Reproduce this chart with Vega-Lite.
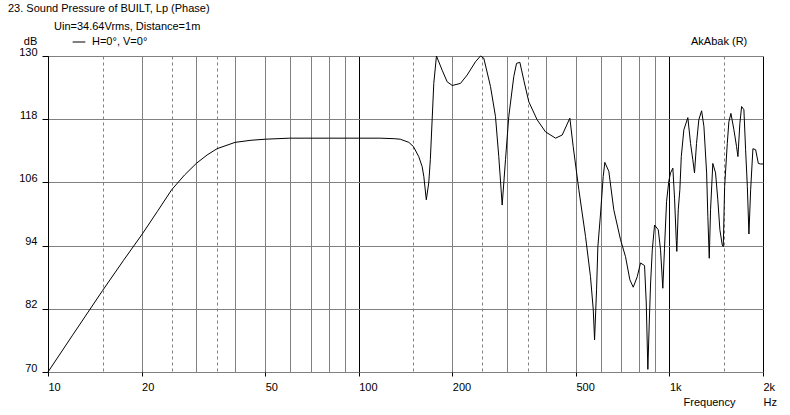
{
  "$schema": "https://vega.github.io/schema/vega-lite/v6.json",
  "autosize": {"type": "none"},
  "width": 715,
  "height": 316,
  "padding": {"left": 48, "top": 56, "right": 27, "bottom": 43},
  "background": "white",
  "config": {
    "font": "Liberation Sans",
    "view": {"stroke": null},
    "axis": {"labelFont": "Liberation Sans", "labelFontSize": 11, "labelColor": "black", "titleFont": "Liberation Sans", "titleFontSize": 11, "titleFontWeight": "normal", "titleColor": "black"}
  },
  "title": {
    "text": "23. Sound Pressure of BUILT, Lp (Phase)",
    "anchor": "start",
    "frame": "group",
    "dx": -40,
    "offset": 7,
    "fontSize": 11,
    "fontWeight": "normal",
    "font": "Liberation Sans",
    "color": "black"
  },
  "layer": [
    {
      "data": {
        "values": [
          {"f": 10, "db": 70}, {"f": 12, "db": 77.0}, {"f": 15, "db": 85.5}, {"f": 17.5, "db": 91.2},
          {"f": 20, "db": 96.0}, {"f": 22.5, "db": 100.5}, {"f": 25, "db": 104.6}, {"f": 27.5, "db": 107.4},
          {"f": 30, "db": 109.6}, {"f": 32.5, "db": 111.2}, {"f": 35, "db": 112.4}, {"f": 40, "db": 113.6},
          {"f": 45, "db": 114.0}, {"f": 50, "db": 114.2}, {"f": 60, "db": 114.4}, {"f": 80, "db": 114.4},
          {"f": 100, "db": 114.4}, {"f": 117, "db": 114.4}, {"f": 130, "db": 114.3}, {"f": 136, "db": 114.2},
          {"f": 145, "db": 113.6}, {"f": 150, "db": 112.8}, {"f": 156, "db": 110.9}, {"f": 160, "db": 109.0},
          {"f": 162, "db": 107.1}, {"f": 165, "db": 102.7}, {"f": 168, "db": 105.9}, {"f": 170, "db": 110.3},
          {"f": 172.3, "db": 117.9}, {"f": 174.4, "db": 124.8}, {"f": 177.9, "db": 130}, {"f": 185.6, "db": 127.3},
          {"f": 192.6, "db": 125.1}, {"f": 200, "db": 124.4}, {"f": 212.6, "db": 124.8}, {"f": 223.4, "db": 126.4},
          {"f": 237.5, "db": 128.9}, {"f": 246.5, "db": 130}, {"f": 252.6, "db": 129.6}, {"f": 265.5, "db": 124.2},
          {"f": 275.5, "db": 118.5}, {"f": 282.3, "db": 110.9}, {"f": 289.5, "db": 101.7}, {"f": 296.7, "db": 110.3},
          {"f": 304, "db": 118.5}, {"f": 315.5, "db": 126.1}, {"f": 322, "db": 128.6}, {"f": 330, "db": 128.8},
          {"f": 339.8, "db": 125.4}, {"f": 352.7, "db": 121.3}, {"f": 375, "db": 117.9}, {"f": 399, "db": 115.6},
          {"f": 430, "db": 114.4}, {"f": 451.7, "db": 115.0}, {"f": 478, "db": 118.2}, {"f": 490, "db": 112.8},
          {"f": 511, "db": 104.6}, {"f": 537, "db": 95.7}, {"f": 557, "db": 88.1}, {"f": 568.6, "db": 81.8},
          {"f": 574.1, "db": 76.1}, {"f": 582.6, "db": 85.6}, {"f": 588.3, "db": 93.8}, {"f": 600, "db": 100.0},
          {"f": 612, "db": 107.1}, {"f": 619.5, "db": 109.8}, {"f": 638, "db": 108.1}, {"f": 662, "db": 100.8},
          {"f": 696, "db": 95.1}, {"f": 722, "db": 91.9}, {"f": 745.7, "db": 87.5}, {"f": 764.6, "db": 86.1},
          {"f": 787.6, "db": 88.1}, {"f": 807, "db": 90.7}, {"f": 831.5, "db": 90.2}, {"f": 842, "db": 83.1},
          {"f": 852, "db": 70.5}, {"f": 861, "db": 79.3}, {"f": 869.6, "db": 86.9}, {"f": 880.5, "db": 93.2},
          {"f": 895.6, "db": 97.9}, {"f": 920.4, "db": 97.0}, {"f": 936, "db": 93.2}, {"f": 952, "db": 85.9},
          {"f": 964, "db": 93.5}, {"f": 978.8, "db": 102.4}, {"f": 995.6, "db": 106.3}, {"f": 1008, "db": 107.8},
          {"f": 1025.4, "db": 108.7}, {"f": 1038.5, "db": 103}, {"f": 1051.7, "db": 95}, {"f": 1056, "db": 92.9},
          {"f": 1067.4, "db": 100.8}, {"f": 1080, "db": 104.6}, {"f": 1091.6, "db": 110.9}, {"f": 1112.6, "db": 116.0},
          {"f": 1146, "db": 118.3}, {"f": 1169, "db": 113.4}, {"f": 1189, "db": 110.3}, {"f": 1204, "db": 107.8},
          {"f": 1222, "db": 113.4}, {"f": 1243, "db": 117.9}, {"f": 1269, "db": 119.6}, {"f": 1291, "db": 116.6},
          {"f": 1317, "db": 107.8}, {"f": 1329, "db": 99.5}, {"f": 1343, "db": 91.6}, {"f": 1356, "db": 100.8},
          {"f": 1379, "db": 109.6}, {"f": 1407, "db": 107.8}, {"f": 1431, "db": 102.7}, {"f": 1453, "db": 97.0},
          {"f": 1479, "db": 94.1}, {"f": 1490, "db": 93.8}, {"f": 1505, "db": 105.2}, {"f": 1535, "db": 113.4},
          {"f": 1553, "db": 117.5}, {"f": 1577, "db": 119.1}, {"f": 1612, "db": 116.0}, {"f": 1644, "db": 112.8},
          {"f": 1661, "db": 110.9}, {"f": 1685, "db": 117.2}, {"f": 1707, "db": 120.4}, {"f": 1736, "db": 119.8},
          {"f": 1758, "db": 112.2}, {"f": 1781, "db": 105.2}, {"f": 1802, "db": 96.2}, {"f": 1825, "db": 104.6},
          {"f": 1856, "db": 112.4}, {"f": 1894, "db": 112.2}, {"f": 1932, "db": 109.6}, {"f": 1960, "db": 109.5},
          {"f": 2000, "db": 109.5}
        ]
      },
      "mark": {"type": "line", "strokeWidth": 1, "interpolate": "linear"},
      "encoding": {
        "x": {
          "field": "f",
          "type": "quantitative",
          "scale": {"type": "log", "domain": [10, 2000], "nice": false},
          "axis": {
            "title": "Frequency",
            "titleX": 661,
            "titleY": 33,
            "titleAlign": "center",
            "titleBaseline": "alphabetic",
            "values": [10, 15, 20, 25, 30, 35, 40, 50, 60, 70, 80, 90, 100, 150, 200, 250, 300, 350, 400, 500, 600, 700, 800, 900, 1000, 1500, 2000],
            "labelExpr": "datum.value == 10 ? '10' : datum.value == 20 ? '20' : datum.value == 50 ? '50' : datum.value == 100 ? '100' : datum.value == 200 ? '200' : datum.value == 500 ? '500' : datum.value == 1000 ? '1k' : datum.value == 2000 ? ['2k', 'Hz'] : ''",
            "labelAlign": "left",
            "labelBaseline": "alphabetic",
            "labelPadding": 14,
            "labelLineHeight": 15,
            "labelOverlap": false,
            "labelFlush": false,
            "domain": false,
            "ticks": true,
            "tickSize": 4,
            "tickColor": "black",
            "tickOpacity": {"condition": {"test": "indexof([10, 20, 50, 100, 200, 500, 1000, 2000], datum.value) >= 0", "value": 1}, "value": 0},
            "grid": true,
            "gridColor": {"condition": {"test": "datum.value == 10 || datum.value == 100 || datum.value == 1000 || datum.value == 2000", "value": "black"}, "value": "#808080"},
            "gridDash": {"condition": {"test": "datum.value == 15 || datum.value == 25 || datum.value == 35 || datum.value == 150 || datum.value == 250 || datum.value == 350 || datum.value == 1500", "value": [3, 3]}, "value": []},
            "gridOpacity": 1,
            "gridWidth": 1
          }
        },
        "y": {
          "field": "db",
          "type": "quantitative",
          "scale": {"domain": [70, 130], "nice": false, "zero": false},
          "axis": {
            "title": "dB",
            "titleAngle": 0,
            "titleX": -18,
            "titleY": -12,
            "titleAlign": "center",
            "titleBaseline": "alphabetic",
            "values": [70, 82, 94, 106, 118, 130],
            "labelBaseline": "alphabetic",
            "labelOffset": -1,
            "labelPadding": 5,
            "tickSize": 6,
            "tickColor": "black",
            "domain": true,
            "domainColor": "black",
            "grid": true,
            "gridColor": "#808080",
            "gridOpacity": 1,
            "gridWidth": 1
          }
        },
        "color": {
          "datum": "H=0°, V=0°",
          "type": "nominal",
          "scale": {"range": ["black"]},
          "legend": {
            "orient": "none",
            "legendX": 6,
            "legendY": -35,
            "title": "Uin=34.64Vrms, Distance=1m",
            "titleFontWeight": "normal",
            "titleFontSize": 11,
            "titleFont": "Liberation Sans",
            "titleColor": "black",
            "titlePadding": 3,
            "labelFontSize": 11,
            "labelFont": "Liberation Sans",
            "labelColor": "black",
            "labelOffset": 6,
            "symbolType": "stroke",
            "symbolSize": 160,
            "symbolStrokeWidth": 1,
            "symbolOffset": 18,
            "padding": 0
          }
        }
      }
    },
    {
      "data": {"values": [{"label": "AkAbak (R)"}]},
      "mark": {"type": "text", "align": "right", "baseline": "alphabetic", "fontSize": 11, "font": "Liberation Sans", "color": "black"},
      "encoding": {
        "x": {"datum": 1780, "type": "quantitative"},
        "y": {"datum": 132.1, "type": "quantitative"},
        "text": {"field": "label", "type": "nominal"}
      }
    }
  ]
}
